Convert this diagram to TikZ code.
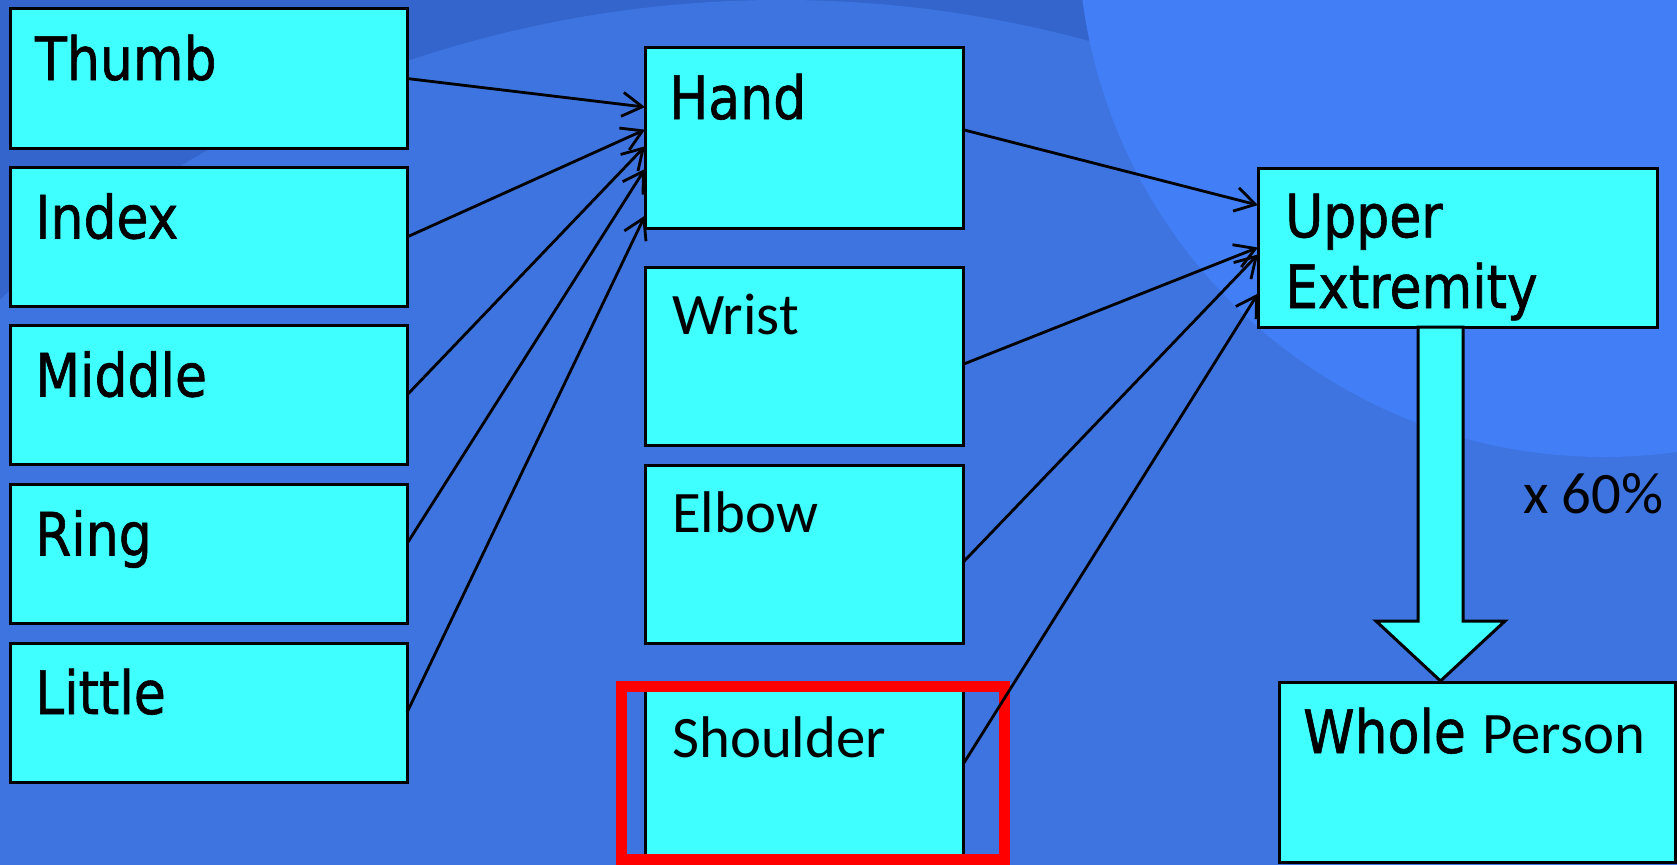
\documentclass[tikz,border=0pt]{standalone}
\usepackage{fontspec}
\setmainfont{DejaVu Sans}[FakeStretch=0.87, FakeBold=1.0]
\newfontfamily\carlito{Carlito}
\usetikzlibrary{arrows.meta}
\definecolor{bgdark}{RGB}{51,101,204}
\definecolor{bgmid}{RGB}{62,116,224}
\definecolor{bglight}{RGB}{66,126,246}
\definecolor{boxfill}{RGB}{64,255,255}
\begin{document}
\begin{tikzpicture}[x=1bp, y=-1bp,
    box/.style={draw=black, fill=boxfill, line width=3bp, inner sep=0pt, outer sep=0pt},
    finger/.style={box, minimum width=396bp, minimum height=139bp},
    joint/.style={box, minimum width=318bp, minimum height=178bp},
    bigfont/.style={font=\fontsize{60}{71}\selectfont},
    smallfont/.style={font=\carlito\fontsize{59}{71}\selectfont},
    boxtag/.style={label={[bigfont, anchor=base west, align=left, inner sep=0pt, xshift=24bp, yshift=-71bp]north west:#1}},
    smalltag/.style={label={[smallfont, anchor=base west, inner sep=0pt, xshift=27bp, yshift=-67bp]north west:#1}},
    link/.style={line width=2.8bp, -{Straight Barb[length=20bp, width=24bp]}},
    fat/.style={draw=black, fill=boxfill, line width=3bp, line join=miter},
    highlight/.style={draw=red, line width=11bp}]

    \useasboundingbox (0,0) rectangle (1677,864);
    \begin{scope}
        \clip (0,0) rectangle (1677,864);
        \fill[bgdark] (0,0) rectangle (1677,864);
        \fill[bgmid] (781,1168) circle[radius=1168bp];
        \fill[bglight] (1604,-69) circle[radius=526bp];
    \end{scope}

    \node[finger, boxtag=Thumb] (thumb) at (209, 78.5) {};
    \node[finger, boxtag=Index] (index) at (209, 237) {};
    \node[finger, boxtag=Middle] (middle) at (209, 395) {};
    \node[finger, boxtag=Ring] (ring) at (209, 554) {};
    \node[finger, boxtag=Little] (little) at (209, 712.5) {};

    \node[box, minimum width=318bp, minimum height=180bp, boxtag=Hand] (hand) at (804, 138) {};
    \node[joint, smalltag=Wrist] (wrist) at (804, 356) {};
    \node[joint, smalltag=Elbow] (elbow) at (804, 554) {};
    \node[box, minimum width=318bp, minimum height=171bp, smalltag=Shoulder] (shoulder) at (804, 775.5) {};

    \node[box, minimum width=399bp, minimum height=159bp,
          label={[bigfont, anchor=base west, align=left, inner sep=0pt, xshift=27bp, yshift=-140bp]north west:Upper\\Extremity}] (upper) at (1457.5, 247.5) {};
    \node[box, minimum width=396bp, minimum height=180bp,
          boxtag={Whole {\carlito\fontsize{59}{71}\selectfont Person}}] (whole) at (1477, 772) {};

    \draw[fat] (1418,327) -- (1418,621) -- (1376,621) -- (1440.5,681) -- (1505,621) -- (1463,621) -- (1463,327) -- cycle;
    \node[smallfont, anchor=base west, inner sep=0pt] (factor) at (1523, 513) {x 60\%};

    \draw[highlight] ([shift={(-24,-4)}]shoulder.north west) rectangle ([shift={(41,-2)}]shoulder.south east);

    \draw[link] (thumb.east) -- (hand.169);
    \draw[link] (index.east) -- (hand.177);
    \draw[link] (middle.east) -- (hand.183);
    \draw[link] (ring.3) -- (hand.191);
    \draw[link] (little.east) -- (hand.206);

    \draw[link] (hand.3) -- (upper.168);
    \draw[link] (wrist.357) -- (upper.west);
    \draw[link] (elbow.357) -- (upper.182);
    \draw[link] (shoulder.4) -- (upper.193);
\end{tikzpicture}
\end{document}
